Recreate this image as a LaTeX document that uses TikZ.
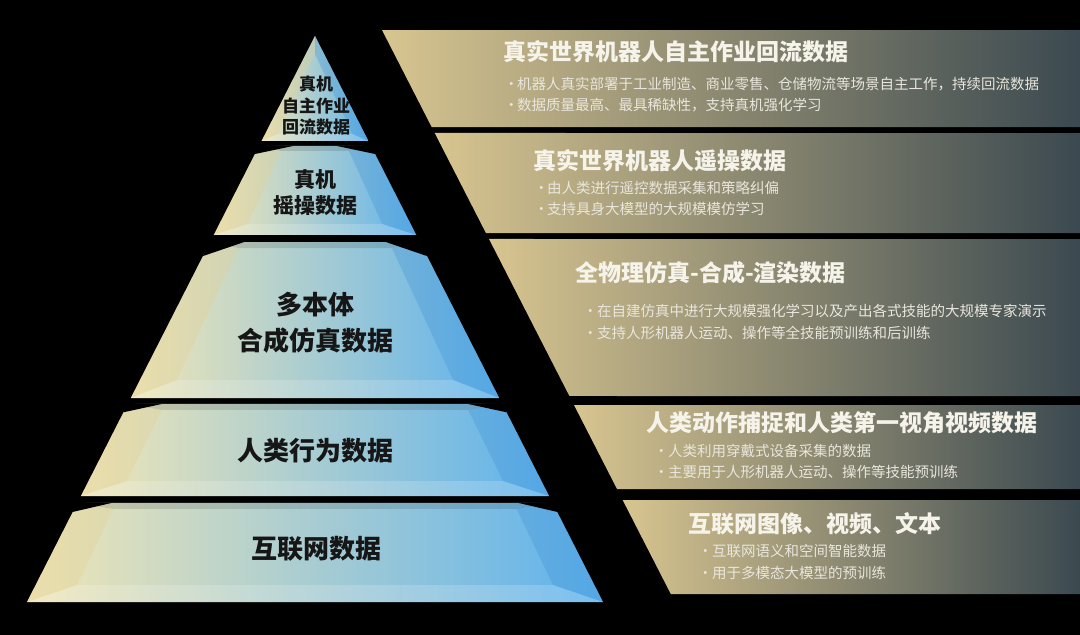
\documentclass[tikz,border=0pt]{standalone}
\usepackage{fontspec}
\setmainfont{Noto Sans CJK SC}
\usetikzlibrary{calc}
\definecolor{pcream}{HTML}{F1E6B6}
\definecolor{pmid}{HTML}{C9E1E7}
\definecolor{pblue}{HTML}{5DB2EE}
\definecolor{ptan}{HTML}{D8C590}
\definecolor{pgray}{HTML}{8C8B7D}
\definecolor{pslate}{HTML}{3B4950}
\definecolor{pyrink}{HTML}{161616}
\definecolor{titlec}{HTML}{F6F3EA}
\definecolor{bulc}{HTML}{E9E6DD}
\definecolor{lfacet}{HTML}{E2D096}
\definecolor{rfacet}{HTML}{3E8FD2}
\tikzset{
  layershade/.style={left color=pcream, middle color=pmid, right color=pblue},
  panelshade/.style={left color=ptan, middle color=pgray, right color=pslate},
  pyrtext/.style={text=pyrink, align=center, inner sep=0pt},
  ptitle/.style={text=titlec, inner sep=0pt, anchor=west, font=\bfseries\fontsize{23}{23}\selectfont},
  pbul/.style={text=bulc, inner sep=0pt, anchor=west, font=\fontsize{14.5}{14.5}\selectfont}
}
% name, y-top, y-bottom, top inset x, top inset y, bottom inset x, bottom inset y
\newcommand\pyrlayer[7]{%
  \coordinate (#1tl) at ($(apex)!{(#2-36)/566}!(lbase)$);
  \coordinate (#1tr) at ($(apex)!{(#2-36)/566}!(rbase)$);
  \coordinate (#1bl) at ($(apex)!{(#3-36)/566}!(lbase)$);
  \coordinate (#1br) at ($(apex)!{(#3-36)/566}!(rbase)$);
  \coordinate (#1itl) at ($(#1tl)+(#4,#5)$);
  \coordinate (#1itr) at ($(#1tr)+(-#4,#5)$);
  \coordinate (#1ibl) at ($(#1bl)+(#6,-#7)$);
  \coordinate (#1ibr) at ($(#1br)+(-#6,-#7)$);
  \shade[layershade] (#1tl) -- (#1tr) -- (#1br) -- (#1bl) -- cycle;
  \fill[black, opacity=0.12] (#1tl) -- (#1tr) -- (#1itr) -- (#1itl) -- cycle;
  \fill[lfacet, opacity=0.35] (#1tl) -- (#1itl) -- (#1ibl) -- (#1bl) -- cycle;
  \fill[rfacet, opacity=0.30] (#1tr) -- (#1itr) -- (#1ibr) -- (#1br) -- cycle;
  \fill[white, opacity=0.18] (#1bl) -- (#1ibl) -- (#1ibr) -- (#1br) -- cycle;
}
\newcommand\notches[1]{%
  \fill[black] ($(#1tl)+(-2,-1)$) -- ($(#1tl)+(34,0)$) -- ($(#1tl)!0.09!(#1bl)$) -- cycle;
  \fill[black] ($(#1tr)+(2,-1)$) -- ($(#1tr)+(-34,0)$) -- ($(#1tr)!0.09!(#1br)$) -- cycle;
}
% name, y-top, y-bottom
\newcommand\infopanel[3]{%
  \coordinate (#1tl) at ($(ptop)!{(#2-30)/564}!(pbot)$);
  \coordinate (#1bl) at ($(ptop)!{(#3-30)/564}!(pbot)$);
  \coordinate (#1tr) at (1080,#2);
  \coordinate (#1br) at (1080,#3);
  \shade[panelshade] (#1tl) -- (#1tr) -- (#1br) -- (#1bl) -- cycle;
}
\begin{document}
\begin{tikzpicture}[x=1pt,y=-1pt]
\fill[black] (0,0) rectangle (1080,635);
\useasboundingbox (0,0) rectangle (1080,635);
\coordinate (apex) at (315,36);
\coordinate (lbase) at (27,602);
\coordinate (rbase) at (603,602);
\coordinate (ptop) at (382,30);
\coordinate (pbot) at (670.8,594);

% pyramid layers
\pyrlayer{L1}{36}{141}{0}{18}{16}{7}
\pyrlayer{L2}{146}{235}{22}{5}{34}{11}
\pyrlayer{L3}{242}{398}{28}{6}{46}{18}
\pyrlayer{L4}{404}{496}{34}{6}{46}{15}
\pyrlayer{L5}{503}{602}{36}{6}{50}{17}
\notches{L2}
\notches{L3}
\notches{L4}
\notches{L5}

% pyramid labels
\node[pyrtext, font=\bfseries\fontsize{17}{21.5}\selectfont] (t1) at (316,106) {真机\\自主作业\\回流数据};
\node[pyrtext, font=\bfseries\fontsize{21}{26}\selectfont] (t2) at (315,193) {真机\\摇操数据};
\node[pyrtext, font=\bfseries\fontsize{26}{36}\selectfont] (t3) at (315,323) {多本体\\合成仿真数据};
\node[pyrtext, font=\bfseries\fontsize{26}{26}\selectfont] (t4) at (315,451) {人类行为数据};
\node[pyrtext, font=\bfseries\fontsize{26}{26}\selectfont] (t5) at (316,549) {互联网数据};

% right panels
\infopanel{P1}{30}{127}
\infopanel{P2}{133}{233}
\infopanel{P3}{239}{396}
\infopanel{P4}{405}{489}
\infopanel{P5}{500}{594}

\node[ptitle] (p1t) at (503,52) {真实世界机器人自主作业回流数据};
\node[pbul] (p1a) at (504,84) {\makebox[13pt][l]{·}机器人真实部署于工业制造、商业零售、仓储物流等场景自主工作，持续回流数据};
\node[pbul] (p1b) at (504,105) {\makebox[13pt][l]{·}数据质量最高、最具稀缺性，支持真机强化学习};

\node[ptitle] (p2t) at (533,161) {真实世界机器人遥操数据};
\node[pbul] (p2a) at (534,188) {\makebox[13pt][l]{·}由人类进行遥控数据采集和策略纠偏};
\node[pbul] (p2b) at (534,209) {\makebox[13pt][l]{·}支持具身大模型的大规模模仿学习};

\node[ptitle] (p3t) at (575,273) {全物理仿真-合成-渲染数据};
\node[pbul] (p3a) at (583,311) {\makebox[14pt][l]{·}在自建仿真中进行大规模强化学习以及产出各式技能的大规模专家演示};
\node[pbul] (p3b) at (583,333) {\makebox[14pt][l]{·}支持人形机器人运动、操作等全技能预训练和后训练};

\node[ptitle] (p4t) at (646,423) {人类动作捕捉和人类第一视角视频数据};
\node[pbul] (p4a) at (654,451) {\makebox[14pt][l]{·}人类利用穿戴式设备采集的数据};
\node[pbul] (p4b) at (654,472) {\makebox[14pt][l]{·}主要用于人形机器人运动、操作等技能预训练};

\node[ptitle] (p5t) at (688,524) {互联网图像、视频、文本};
\node[pbul] (p5a) at (698,551) {\makebox[14pt][l]{·}互联网语义和空间智能数据};
\node[pbul] (p5b) at (698,573) {\makebox[14pt][l]{·}用于多模态大模型的预训练};
\end{tikzpicture}
\end{document}
